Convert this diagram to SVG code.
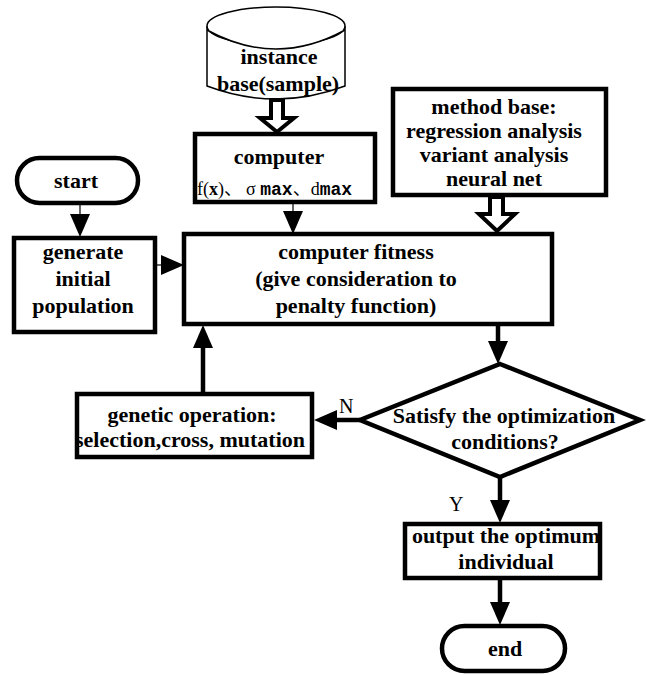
<svg xmlns="http://www.w3.org/2000/svg" width="646" height="675" viewBox="0 0 646 675">
<defs>
<marker id="ah" markerUnits="userSpaceOnUse" markerWidth="24" markerHeight="22" refX="0" refY="11" orient="auto" viewBox="0 0 24 22">
<path d="M0,1 L23,11 L0,21 Z" fill="#000"/>
</marker>
<style>
.box{fill:#fff;stroke:#000;stroke-width:4.5}
.t{font-family:"Liberation Serif","Times New Roman",serif;font-weight:bold;font-size:22px;fill:#000;text-anchor:middle}
.thin{stroke:#000;stroke-width:1.2;fill:none}
.thick{stroke:#000;stroke-width:4.5;fill:none}
.hollow{fill:#fff;stroke:#000;stroke-width:4;stroke-linejoin:miter}
.cyl{fill:#fff;stroke:#000;stroke-width:1.5}
.lbl{font-family:"Liberation Serif","Times New Roman",serif;font-size:20px;fill:#000}
</style>
</defs>
<rect width="646" height="675" fill="#fff"/>

<g id="instance-base">
<path class="cyl" d="M207,26 L207,86 Q276,112 345,86 L345,26"/>
<ellipse class="cyl" cx="276" cy="26" rx="69" ry="19"/>
<path class="cyl" d="M207,30 Q276,68 345,30"/>
<text class="t" x="279" y="64">instance</text>
<text class="t" x="278" y="91">base(sample)</text>
</g>

<g id="computer">
<rect class="box" x="195" y="134" width="180" height="68"/>
<text class="t" x="279" y="164">computer</text>
<text x="197" y="195" style="font-size:18px;fill:#000"><tspan style="font-family:'Liberation Serif',serif">f(</tspan><tspan style="font-family:'Liberation Serif',serif;font-weight:bold">x</tspan><tspan style="font-family:'Liberation Serif',serif">)</tspan><tspan style="font-family:'Noto Sans CJK SC',sans-serif">、 </tspan><tspan style="font-family:'Liberation Serif',serif">  σ </tspan><tspan style="font-family:'Liberation Mono',monospace;font-weight:bold">max</tspan><tspan style="font-family:'Noto Sans CJK SC',sans-serif">、</tspan><tspan style="font-family:'Liberation Serif',serif">d</tspan><tspan style="font-family:'Liberation Mono',monospace;font-weight:bold">max</tspan></text>
</g>

<g id="method-base">
<rect class="box" x="393" y="89" width="213" height="106"/>
<text class="t" x="494" y="114">method base:</text>
<text class="t" x="494" y="138">regression analysis</text>
<text class="t" x="494" y="162">variant analysis</text>
<text class="t" x="494" y="186">neural net</text>
</g>

<g id="start">
<rect class="box" x="17" y="158" width="121" height="45" rx="22.5"/>
<text class="t" x="76" y="188">start</text>
</g>

<g id="generate">
<rect class="box" x="14" y="238" width="141" height="94"/>
<text class="t" x="83" y="259">generate</text>
<text class="t" x="83" y="286">initial</text>
<text class="t" x="83" y="313">population</text>
</g>

<g id="fitness">
<rect class="box" x="184" y="234" width="368" height="90"/>
<text class="t" x="356" y="259">computer fitness</text>
<text class="t" x="356" y="286">(give consideration to</text>
<text class="t" x="356" y="313">penalty function)</text>
</g>

<g id="genetic">
<rect class="box" x="77" y="394" width="235" height="63"/>
<text class="t" x="192" y="422">genetic operation:</text>
<text class="t" x="190" y="447">selection,cross, mutation</text>
</g>

<g id="decision">
<polygon class="box" points="500,364 640,420 500,477 360,420"/>
<text class="t" x="504" y="423">Satisfy the optimization</text>
<text class="t" x="505" y="449">conditions?</text>
</g>

<g id="output">
<rect class="box" x="405" y="524" width="195" height="54"/>
<text class="t" x="506" y="543">output the optimum</text>
<text class="t" x="506" y="569">individual</text>
</g>

<g id="end">
<rect class="box" x="442" y="626" width="123" height="45" rx="22.5"/>
<text class="t" x="505" y="656">end</text>
</g>

<g id="connectors">
<polygon class="hollow" points="271,100 283,100 283,118 294,118 277,132 260,118 271,118"/>
<polygon class="hollow" points="490,197 503,197 503,214 515,214 497,231 479,214 490,214"/>
<line class="thin" x1="80" y1="203" x2="80" y2="214" marker-end="url(#ah)"/>
<line class="thin" x1="155" y1="265" x2="161" y2="265" marker-end="url(#ah)"/>
<line class="thin" x1="293" y1="202" x2="293" y2="211" marker-end="url(#ah)"/>
<line class="thick" x1="498" y1="324" x2="498" y2="341" marker-end="url(#ah)"/>
<line class="thick" x1="360" y1="420" x2="337" y2="420" marker-end="url(#ah)"/>
<line class="thick" x1="203" y1="392" x2="203" y2="348" marker-end="url(#ah)"/>
<line class="thick" x1="500" y1="477" x2="500" y2="500" marker-end="url(#ah)"/>
<line class="thick" x1="500" y1="578" x2="500" y2="602" marker-end="url(#ah)"/>
<text class="lbl" x="339" y="413">N</text>
<text class="lbl" x="449" y="511">Y</text>
</g>
</svg>
